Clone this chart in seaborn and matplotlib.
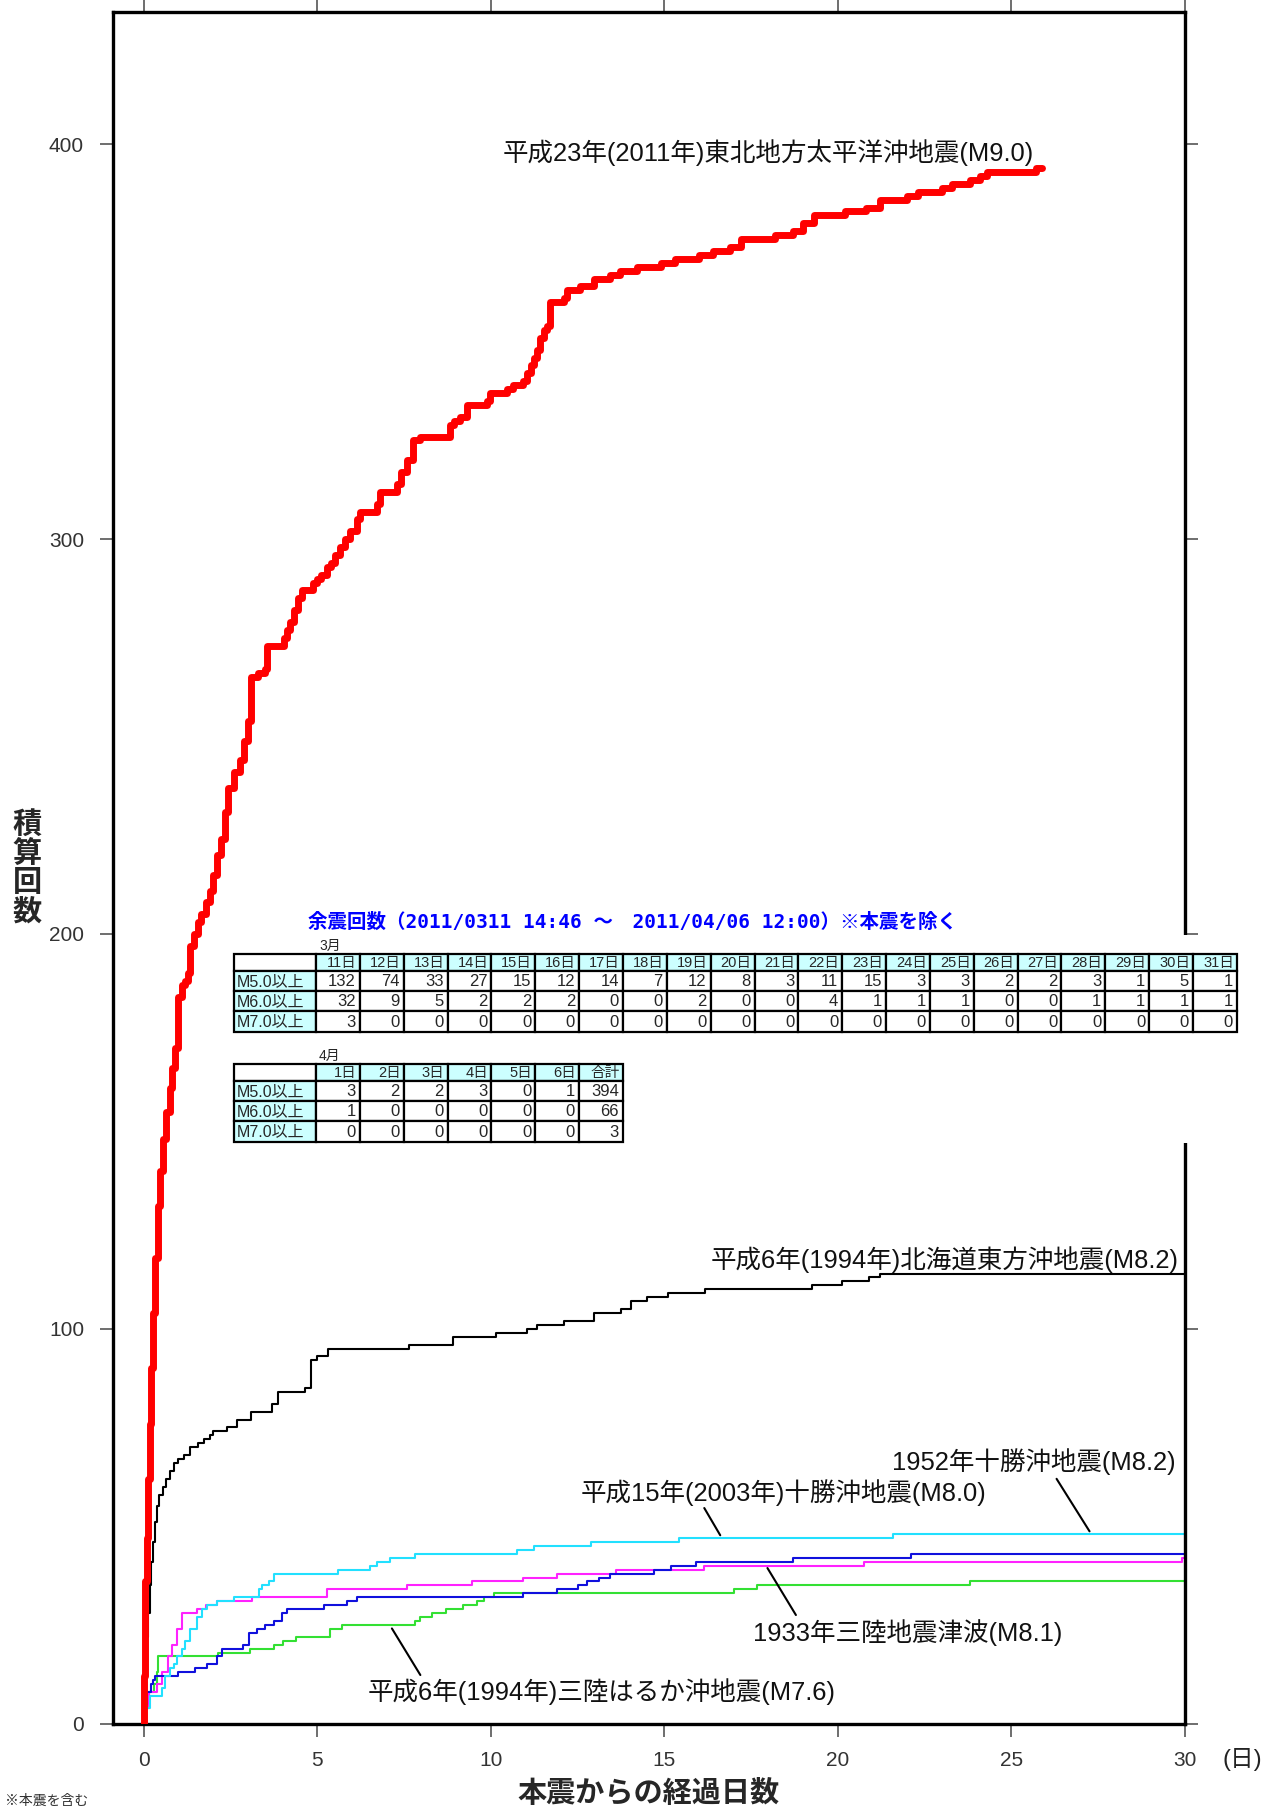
import matplotlib
matplotlib.use("Agg")
import matplotlib.pyplot as plt
from matplotlib.patches import Rectangle
import seaborn as sns

# 本震からの経過日数と余震の積算回数
tohoku_days = [0, 0.01, 0.03, 0.05, 0.08, 0.12, 0.17, 0.22, 0.27, 0.33,
               0.41, 0.48, 0.56, 0.65, 0.75, 0.82, 0.9, 0.99, 1.1, 1.2,
               1.28, 1.33, 1.45, 1.55, 1.66, 1.78, 1.9, 2.0, 2.1, 2.24,
               2.35, 2.43, 2.6, 2.77, 2.9, 3.01, 3.1, 3.3, 3.5, 3.55,
               4.03, 4.12, 4.2, 4.32, 4.45, 4.56, 4.89, 5.0, 5.1, 5.27,
               5.4, 5.5, 5.66, 5.8, 5.95, 6.14, 6.24, 6.72, 6.81, 7.29,
               7.4, 7.58, 7.77, 7.96, 8.83, 8.95, 9.12, 9.31, 9.89, 9.98,
               10.46, 10.65, 10.94, 11.04, 11.15, 11.25, 11.33, 11.42, 11.52, 11.62,
               11.71, 12.1, 12.2, 12.58, 12.96, 13.44, 13.73, 14.2, 14.9, 15.3,
               16.0, 16.4, 16.9, 17.2, 18.2, 18.7, 19.0, 19.3, 20.2, 20.8,
               21.2, 22.0, 22.3, 23.0, 23.3, 23.8, 24.1, 24.3, 25.7, 25.88]
tohoku_counts = [0, 12, 25, 36, 47, 62, 76, 90, 104, 118,
                 131, 140, 148, 155, 161, 166, 171, 184, 187, 188,
                 190, 197, 200, 203, 205, 208, 211, 215, 220, 224,
                 231, 237, 241, 244, 249, 254, 265, 266, 267, 273,
                 275, 277, 279, 282, 285, 287, 289, 290, 291, 293,
                 294, 296, 298, 300, 302, 305, 307, 309, 312, 314,
                 317, 320, 325, 326, 329, 330, 331, 334, 335, 337,
                 338, 339, 340, 342, 344, 346, 348, 351, 353, 354,
                 360, 361, 363, 364, 366, 367, 368, 369, 370, 371,
                 372, 373, 374, 376, 377, 378, 380, 382, 383, 384,
                 386, 387, 388, 389, 390, 391, 392, 393, 394, 394]

hokkaido_days = [0, 0.03, 0.06, 0.1, 0.13, 0.17, 0.22, 0.27, 0.32, 0.37,
                 0.45, 0.56, 0.65, 0.75, 0.86, 1.0, 1.15, 1.34, 1.55, 1.74,
                 1.9, 2.0, 2.41, 2.7, 3.09, 3.7, 3.86, 4.64, 4.83, 5.0,
                 5.31, 7.64, 8.9, 10.16, 11.03, 11.32, 12.1, 12.97, 13.74, 14.03,
                 14.51, 15.1, 16.16, 19.26, 20.13, 20.9, 21.2, 30.0]
hokkaido_counts = [0, 8, 15, 22, 28, 35, 41, 46, 51, 55,
                   58, 60, 62, 64, 66, 67, 68, 70, 71, 72,
                   73, 74, 75, 77, 79, 81, 84, 85, 92, 93,
                   95, 96, 98, 99, 100, 101, 102, 104, 105, 107,
                   108, 109, 110, 111, 112, 113, 114, 114]

cyan_days = [0, 0.05, 0.19, 0.52, 0.62, 0.76, 0.86, 0.95, 1.1, 1.19,
             1.34, 1.53, 1.67, 1.82, 2.1, 2.6, 3.31, 3.4, 3.6, 3.74,
             5.61, 6.52, 6.72, 7.1, 7.82, 10.75, 11.23, 12.88, 15.43, 21.6, 30.0]
cyan_counts = [0, 4, 7, 9, 12, 14, 15, 17, 19, 21,
               24, 27, 29, 30, 31, 32, 34, 35, 36, 38,
               39, 40, 41, 42, 43, 44, 45, 46, 47, 48, 48]

magenta_days = [0, 0.05, 0.14, 0.38, 0.52, 0.71, 0.81, 0.95, 1.1, 1.53,
                1.8, 2.1, 3.12, 5.27, 7.58, 9.45, 10.94, 11.91, 13.61, 16.15,
                20.76, 29.92, 30.0]
magenta_counts = [0, 4, 8, 10, 13, 17, 20, 24, 28, 29,
                  30, 31, 32, 34, 35, 36, 37, 38, 39, 40,
                  41, 42, 42]

blue_days = [0, 0.05, 0.1, 0.2, 0.28, 0.33, 1.0, 1.48, 1.82, 2.1,
             2.25, 2.87, 3.02, 3.26, 3.5, 3.74, 3.98, 4.12, 5.18, 5.85,
             6.14, 10.94, 11.91, 12.52, 12.76, 13.12, 13.43, 14.7, 15.18, 15.91,
             18.7, 22.1, 30.0]
blue_counts = [0, 5, 8, 10, 11, 12, 13, 14, 15, 17,
               19, 20, 23, 24, 25, 26, 28, 29, 30, 31,
               32, 33, 34, 35, 36, 37, 38, 39, 40, 41,
               42, 43, 43]

green_days = [0, 0.02, 0.15, 0.3, 0.38, 0.42, 2.15, 3.07, 3.74, 4.0,
              4.4, 5.37, 5.7, 7.82, 7.95, 8.3, 8.7, 9.2, 9.6, 9.8,
              10.08, 17.0, 17.67, 23.8, 30.0]
green_counts = [0, 4, 8, 10, 13, 17, 18, 19, 20, 21,
                22, 24, 25, 26, 27, 28, 29, 30, 31, 32,
                33, 34, 35, 36, 36]

quake_names = ["平成23年(2011年)東北地方太平洋沖地震(M9.0)",
               "平成6年(1994年)北海道東方沖地震(M8.2)",
               "1952年十勝沖地震(M8.2)",
               "平成15年(2003年)十勝沖地震(M8.0)",
               "1933年三陸地震津波(M8.1)",
               "平成6年(1994年)三陸はるか沖地震(M7.6)"]

# 余震回数の表
table_title = "余震回数（2011/0311 14:46 ～　2011/04/06 12:00）※本震を除く"
row_names = ["M5.0以上", "M6.0以上", "M7.0以上"]
march_heads = [f"{d}日" for d in range(11, 32)]
march_m5 = [132, 74, 33, 27, 15, 12, 14, 7, 12, 8, 3, 11, 15, 3, 3, 2, 2, 3, 1, 5, 1]
march_m6 = [32, 9, 5, 2, 2, 2, 0, 0, 2, 0, 0, 4, 1, 1, 1, 0, 0, 1, 1, 1, 1]
march_m7 = [3, 0, 0, 0, 0, 0, 0, 0, 0, 0, 0, 0, 0, 0, 0, 0, 0, 0, 0, 0, 0]
april_heads = ["1日", "2日", "3日", "4日", "5日", "6日", "合計"]
april_m5 = [3, 2, 2, 3, 0, 1, 394]
april_m6 = [1, 0, 0, 0, 0, 0, 66]
april_m7 = [0, 0, 0, 0, 0, 0, 3]

x_ticks = [0, 5, 10, 15, 20, 25, 30]
y_ticks = [0, 100, 200, 300, 400]

sns.set_theme(style="ticks")
FONT = ["Liberation Sans", "Noto Sans CJK JP"]
plt.rcParams["font.family"] = FONT

fig = plt.figure(figsize=(12.79, 18.09), dpi=100)
ax = fig.add_axes([0.08796, 0.04721, 0.83854, 0.94632])

series = [
    (green_days, green_counts, "#33e033", 1.5, 2),
    (magenta_days, magenta_counts, "#ff22ff", 1.5, 2),
    (blue_days, blue_counts, "#1010dd", 1.5, 2),
    (cyan_days, cyan_counts, "#22e0ff", 1.5, 2),
    (hokkaido_days, hokkaido_counts, "black", 1.5, 3),
    (tohoku_days, tohoku_counts, "#ff0000", 5.0, 4),
]
for days, counts, col, lw, z in series:
    sns.lineplot(x=days, y=counts, ax=ax, color=col, linewidth=lw,
                 drawstyle="steps-post", estimator=None, legend=False, zorder=z)

ax.set_xlim(-0.9, 30)
ax.set_ylim(0, 433.6)
ax.set_xticks(x_ticks)
ax.set_yticks(y_ticks)
for sp in ax.spines.values():
    sp.set_visible(True)
    sp.set_linewidth(2.4)
    sp.set_color("black")
ax.tick_params(axis="both", direction="out", length=9.5, width=1.2, color="#555555",
               top=True, right=True, labeltop=False, labelright=False,
               labelcolor="#333333")
ax.tick_params(axis="y", labelsize=15, pad=11)
ax.tick_params(axis="x", labelsize=15, pad=10)

ax.set_xlabel("本震からの経過日数", fontsize=21, fontweight="bold", va="top")
ax.xaxis.set_label_coords(0.5, -0.033)
ax.set_ylabel("積\n算\n回\n数", fontsize=21, fontweight="bold", rotation=0,
              ha="center", va="center", linespacing=1.05)
ax.yaxis.set_label_coords(-0.0797, 0.4995)
ax.text(1.053, -0.0207, "(日)", transform=ax.transAxes, ha="center", va="center",
        fontsize=17, color="#222222")

# 曲線の名前と引き出し線
label_layout = [
    (quake_names[0], (25.66, 397.8), "right", None),
    (quake_names[1], (29.81, 117.4), "right", None),
    (quake_names[2], (29.73, 66.3), "right", ((26.3, 62.0), (27.25, 48.7))),
    (quake_names[3], (12.58, 58.4), "left", ((16.15, 54.6), (16.61, 47.7))),
    (quake_names[4], (17.56, 23.1), "left", ((17.97, 39.4), (18.79, 27.5))),
    (quake_names[5], (6.44, 8.0), "left", ((7.15, 24.1), (7.97, 12.3))),
]
for name, pos, ha, leader in label_layout:
    ax.text(pos[0], pos[1], name, fontsize=18.4, ha=ha, va="center", color="#111111",
            zorder=6)
    if leader is not None:
        ax.annotate("", xy=leader[0], xytext=leader[1],
                    arrowprops=dict(arrowstyle="-", lw=1.5, color="black",
                                    shrinkA=0, shrinkB=0))

# 表（ピクセル座標のオーバーレイ）
ov = fig.add_axes([0, 0, 1, 1], zorder=5)
ov.set_xlim(0, 1279)
ov.set_ylim(1809, 0)
ov.axis("off")

ov.add_patch(Rectangle((232, 935), 1013, 208, facecolor="white", edgecolor="none"))
ov.text(308, 922, table_title, color="#0000ff", fontsize=14, fontweight="bold",
        family=["DejaVu Sans Mono", "Noto Sans CJK JP"], ha="left", va="center")

LABEL_W = 82
COL_W = 43.85
HEAD_H = 16.5
ROW_H = 20.3
CELL_BG = "#ccffff"


def draw_table(left, top, month, heads, rows):
    ov.text(left + LABEL_W + 3, top - 1.5, month, fontsize=10, ha="left", va="bottom")
    ov.add_patch(Rectangle((left, top), LABEL_W, HEAD_H, facecolor="white",
                           edgecolor="black", lw=1.6))
    for j, h in enumerate(heads):
        x = left + LABEL_W + j * COL_W
        ov.add_patch(Rectangle((x, top), COL_W, HEAD_H, facecolor=CELL_BG,
                               edgecolor="black", lw=1.6))
        ov.text(x + COL_W - 3, top + HEAD_H / 2 + 0.5, h, fontsize=10.5,
                ha="right", va="center")
    for i, (name, vals) in enumerate(zip(row_names, rows)):
        y = top + HEAD_H + i * ROW_H
        ov.add_patch(Rectangle((left, y), LABEL_W, ROW_H, facecolor=CELL_BG,
                               edgecolor="black", lw=1.6))
        ov.text(left + 3, y + ROW_H / 2 + 0.5, name, fontsize=11.5, ha="left",
                va="center")
        for j, v in enumerate(vals):
            x = left + LABEL_W + j * COL_W
            ov.add_patch(Rectangle((x, y), COL_W, ROW_H, facecolor="white",
                                   edgecolor="black", lw=1.6))
            ov.text(x + COL_W - 4, y + ROW_H / 2 + 0.5, str(v), fontsize=12,
                    ha="right", va="center")


draw_table(234, 954.3, "3月", march_heads, [march_m5, march_m6, march_m7])
draw_table(234, 1064.3, "4月", april_heads, [april_m5, april_m6, april_m7])

fig.text(0.004, 1 - 1808 / 1809, "※本震を含む", fontsize=10, color="#333333",
         ha="left", va="bottom")

fig.savefig("out.png", dpi=100)
